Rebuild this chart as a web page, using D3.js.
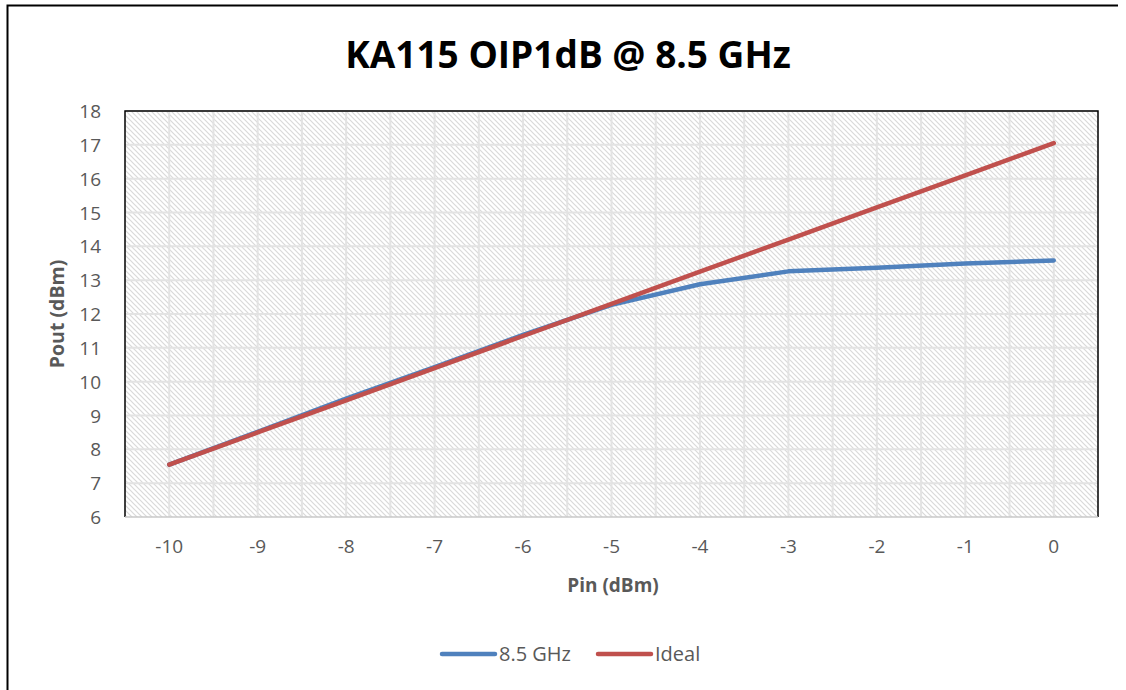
<!DOCTYPE html>
<html>
<head>
<meta charset="utf-8">
<script src="https://d3js.org/d3.v7.min.js"></script>
<style>
	body{margin:0;background:#fff;}
	svg{display:block;}
</style>
</head>
<body>
<svg id="chart" width="1126" height="690"></svg>
<script>

// data
var pinValues = [-10,-9,-8,-7,-6,-5,-4,-3,-2,-1,0];
var measured85 = [7.55,8.52,9.5,10.43,11.38,12.27,12.88,13.26,13.37,13.49,13.58];
var idealValues = [7.55,8.5,9.45,10.4,11.35,12.3,13.25,14.2,15.15,16.1,17.05];
var yTicks = [6,7,8,9,10,11,12,13,14,15,16,17,18];

var seriesList = [
	{name:"8.5 GHz", values:measured85, color:"#4F81BD"},
	{name:"Ideal", values:idealValues, color:"#C0504D"}
];

var svg = d3.select("#chart");
var font = "'Open Sans', 'Liberation Sans', sans-serif";

var plot = {left:125, right:1098, top:111, bottom:517};

// outer chart border
svg.append("path")
	.attr("d","M7.5,690 V5.5 H1118")
	.attr("fill","none")
	.attr("stroke","#000")
	.attr("stroke-width",2);

// hatch pattern for plot area
var defs = svg.append("defs");
var pat = defs.append("pattern")
	.attr("id","hatch")
	.attr("patternUnits","userSpaceOnUse")
	.attr("width",5)
	.attr("height",5);
pat.append("rect").attr("width",5).attr("height",5).attr("fill","#fff");
pat.append("path")
	.attr("d","M-1,-1 L6,6 M-1,4 L1,6 M4,-1 L6,1")
	.attr("stroke","#d9d9d9")
	.attr("stroke-width",1.2);

var x = d3.scaleBand()
	.domain(pinValues)
	.range([plot.left, plot.right]);

var y = d3.scaleLinear()
	.domain([6,18])
	.range([plot.bottom, plot.top]);

svg.append("rect")
	.attr("x",plot.left)
	.attr("y",plot.top)
	.attr("width",plot.right-plot.left)
	.attr("height",plot.bottom-plot.top)
	.attr("fill","url(#hatch)");

// gridlines: vertical at centres and band edges, horizontal at each integer
var halfSteps = [];
pinValues.forEach(function(d,i){
	if(i>0) halfSteps.push(x(d));
	halfSteps.push(x(d)+x.bandwidth()/2);
});
svg.append("g").selectAll("line").data(halfSteps)
	.enter().append("line")
	.attr("x1",function(d){return d})
	.attr("x2",function(d){return d})
	.attr("y1",plot.top)
	.attr("y2",plot.bottom)
	.attr("stroke","#e3e3e3")
	.attr("stroke-width",2);

svg.append("g").selectAll("line").data(yTicks.slice(1))
	.enter().append("line")
	.attr("x1",plot.left)
	.attr("x2",plot.right)
	.attr("y1",function(d){return y(d)})
	.attr("y2",function(d){return y(d)})
	.attr("stroke","#e3e3e3")
	.attr("stroke-width",2);

// plot border: black left/top/right, grey bottom axis
svg.append("path")
	.attr("d","M"+plot.left+","+plot.bottom+" V"+plot.top+" H"+plot.right+" V"+plot.bottom)
	.attr("fill","none")
	.attr("stroke","#000")
	.attr("stroke-width",1.5);
svg.append("line")
	.attr("x1",plot.left).attr("x2",plot.right)
	.attr("y1",plot.bottom).attr("y2",plot.bottom)
	.attr("stroke","#c8c8c8")
	.attr("stroke-width",1.5);

// axes
var tickText = function(d){return String(d)};

var yAxis = svg.append("g")
	.attr("transform","translate("+(plot.left-21)+",0)")
	.call(d3.axisLeft(y).tickValues(yTicks).tickSize(0).tickFormat(tickText));
yAxis.select(".domain").remove();
yAxis.selectAll("text")
	.attr("fill","#595959")
	.style("font-family",font)
	.style("font-size","19px")
	.attr("dy","0.35em");

var xAxis = svg.append("g")
	.attr("transform","translate(0,"+(plot.bottom+19)+")")
	.call(d3.axisBottom(x).tickSize(0).tickFormat(tickText));
xAxis.select(".domain").remove();
xAxis.selectAll("text")
	.attr("fill","#595959")
	.style("font-family",font)
	.style("font-size","19px")
	.attr("dy","0.71em");

// lines
var line = d3.line()
	.x(function(d,i){return x(pinValues[i])+x.bandwidth()/2})
	.y(function(d){return y(d)});

svg.append("g").selectAll("path").data(seriesList)
	.enter().append("path")
	.attr("d",function(s){return line(s.values)})
	.attr("fill","none")
	.attr("stroke",function(s){return s.color})
	.attr("stroke-width",4.5)
	.attr("stroke-linecap","round")
	.attr("stroke-linejoin","round");

// titles
svg.append("text")
	.attr("x",568).attr("y",68)
	.attr("text-anchor","middle")
	.style("font-family",font)
	.style("font-weight","bold")
	.style("font-size","37px")
	.attr("fill","#000")
	.text("KA115 OIP1dB @ 8.5 GHz");

svg.append("text")
	.attr("x",613).attr("y",592)
	.attr("text-anchor","middle")
	.style("font-family",font)
	.style("font-weight","bold")
	.style("font-size","19px")
	.attr("fill","#595959")
	.text("Pin (dBm)");

svg.append("text")
	.attr("transform","translate(64,314) rotate(-90)")
	.attr("text-anchor","middle")
	.style("font-family",font)
	.style("font-weight","bold")
	.style("font-size","19.5px")
	.attr("fill","#595959")
	.text("Pout (dBm)");

// legend
var legendX = [442, 598];
var legend = svg.append("g").selectAll("g").data(seriesList)
	.enter().append("g")
	.attr("transform",function(s,i){return "translate("+legendX[i]+",654)"});
legend.append("line")
	.attr("x1",0).attr("x2",53)
	.attr("stroke",function(s){return s.color})
	.attr("stroke-width",4.5)
	.attr("stroke-linecap","round");
legend.append("text")
	.attr("x",57).attr("dy","0.35em")
	.style("font-family",font)
	.style("font-size","20px")
	.attr("fill","#595959")
	.text(function(s){return s.name});

</script>
</body>
</html>
